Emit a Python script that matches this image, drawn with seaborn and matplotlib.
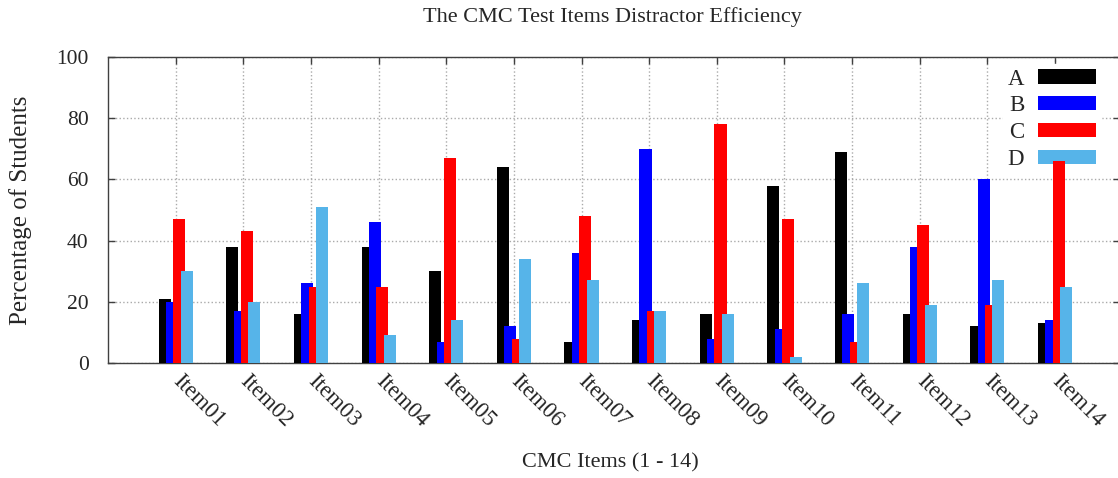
import numpy as np
import pandas as pd
import seaborn as sns
import matplotlib.pyplot as plt

# -----------------------------
# data
# -----------------------------
items = ["Item01", "Item02", "Item03", "Item04", "Item05", "Item06", "Item07",
         "Item08", "Item09", "Item10", "Item11", "Item12", "Item13", "Item14"]
option_a = [21, 38, 16, 38, 30, 64, 7, 14, 16, 58, 69, 16, 12, 13]
option_b = [20, 17, 26, 46, 7, 12, 36, 70, 8, 11, 16, 38, 60, 14]
option_c = [47, 43, 25, 25, 67, 8, 48, 17, 78, 47, 7, 45, 19, 66]
option_d = [30, 20, 51, 9, 14, 34, 27, 17, 16, 2, 26, 19, 27, 25]
options = ["A", "B", "C", "D"]
y_ticks = [0, 20, 40, 60, 80, 100]

series = [option_a, option_b, option_c, option_d]
colors = ["#000000", "#0000ff", "#ff0000", "#56b4e9"]

sns.set_style("ticks")
plt.rcParams["font.family"] = ["Liberation Serif", "DejaVu Serif"]

W, H = 1118, 478
fig = plt.figure(figsize=(W / 100, H / 100), dpi=100)
ax = fig.add_axes([108 / W, 1 - 363 / H, (1120 - 108) / W, (363 - 57) / H])

# overlapping clustered bars, A at the back, D in front
pos = np.arange(len(items))
step = 0.109
width = 0.178
for k, (name, vals, col) in enumerate(zip(options, series, colors)):
    df = pd.DataFrame({"x": pos + (k - 1.5) * step, "y": vals})
    sns.barplot(data=df, x="x", y="y", native_scale=True, width=width,
                color=col, label=name, errorbar=None, linewidth=0,
                saturation=1, ax=ax, zorder=3)

ax.set_xlim(-1.0, 13.96)
ax.set_ylim(0, 100)
ax.set_xticks(pos)
ax.set_xticklabels(items, rotation=-45, ha="left", va="center",
                   rotation_mode="anchor", fontsize=16.5)
ax.set_yticks(y_ticks)
ax.set_yticklabels([str(t) for t in y_ticks], fontsize=15.5)
ax.tick_params(axis="both", direction="in", length=5, width=1, color="#404040",
               top=True, right=True)
ax.tick_params(axis="x", pad=11)
ax.tick_params(axis="y", pad=14)
ax.grid(True, linestyle=":", color="#aaaaaa", linewidth=1)
ax.set_axisbelow(True)
for sp in ax.spines.values():
    sp.set_color("#404040")
    sp.set_linewidth(1)

ax.set_xlabel("CMC Items (1 - 14)", fontsize=16)
ax.xaxis.set_label_coords((610 - 108) / 1012, (363 - 453) / 306)
ax.set_ylabel("Percentage of Students", fontsize=18)
ax.yaxis.set_label_coords((32 - 108) / 1012, 0.5)
fig.text(612 / W, 1 - 17 / H, "The CMC Test Items Distractor Efficiency",
         fontsize=16, ha="center", va="center")

leg = ax.legend(loc="upper right", bbox_to_anchor=(1101 / W, 1 - 64 / H),
                bbox_transform=fig.transFigure, markerfirst=False,
                frameon=True, framealpha=1, facecolor="white", edgecolor="white",
                fontsize=16.5, handlelength=2.55, handleheight=0.57,
                labelspacing=0.25, borderpad=0.2, borderaxespad=0,
                handletextpad=0.6)
leg.set_zorder(2.4)

fig.savefig("out.png", dpi=100)
